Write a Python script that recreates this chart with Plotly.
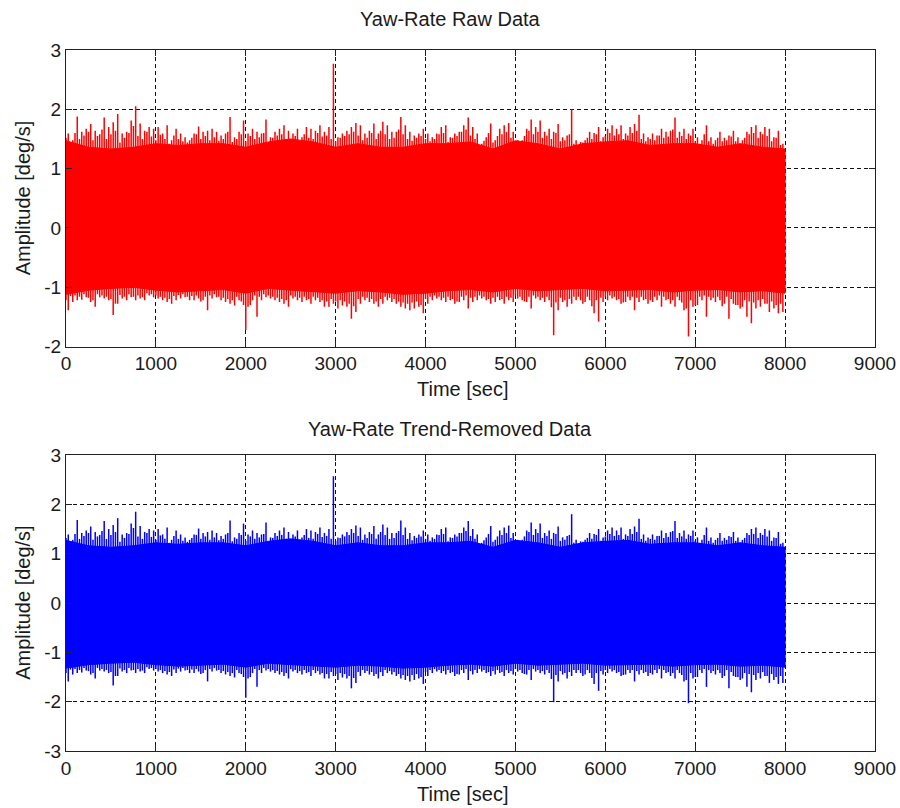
import plotly.graph_objects as go

# ---------------- data ----------------
# Highest / lowest excursion of the raw yaw-rate signal in each 50-s bin (0..8000 s)
raw_upper_peak = [
    1.59, 1.48, 1.88, 1.62, 1.67, 1.75, 1.64, 1.58, 1.86, 1.70,
    1.78, 1.92, 1.59, 1.62, 1.81, 2.05, 1.76, 1.64, 1.70, 1.67,
    1.70, 1.59, 1.73, 1.48, 1.67, 1.59, 1.53, 1.48, 1.59, 1.71,
    1.62, 1.64, 1.67, 1.62, 1.56, 1.59, 1.87, 1.53, 1.62, 1.81,
    1.59, 1.67, 1.62, 1.59, 1.83, 1.53, 1.62, 1.67, 1.73, 1.64,
    1.59, 1.67, 1.53, 1.70, 1.67, 1.64, 1.73, 1.62, 1.70, 2.77,
    1.53, 1.59, 1.64, 1.70, 1.77, 1.73, 1.59, 1.64, 1.76, 1.59,
    1.79, 1.73, 1.62, 1.62, 1.87, 1.73, 1.62, 1.56, 1.59, 1.67,
    1.59, 1.53, 1.59, 1.70, 1.73, 1.53, 1.59, 1.62, 1.73, 1.86,
    1.70, 1.59, 1.42, 1.53, 1.76, 1.48, 1.67, 1.73, 1.77, 1.62,
    1.48, 1.48, 1.67, 1.83, 1.70, 1.81, 1.62, 1.67, 1.62, 1.75,
    1.53, 1.56, 2.00, 1.48, 1.45, 1.48, 1.62, 1.60, 1.70, 1.53,
    1.67, 1.73, 1.67, 1.73, 1.59, 1.70, 1.75, 1.91, 1.59, 1.53,
    1.59, 1.56, 1.67, 1.62, 1.64, 1.86, 1.62, 1.67, 1.59, 1.67,
    1.53, 1.48, 1.73, 1.53, 1.48, 1.62, 1.52, 1.56, 1.64, 1.53,
    1.48, 1.62, 1.70, 1.73, 1.62, 1.70, 1.67, 1.53, 1.64, 1.42,
]
raw_lower_peak = [
    -1.39, -1.25, -1.22, -1.21, -1.17, -1.25, -1.33, -1.17, -1.19, -1.22,
    -1.47, -1.28, -1.19, -1.22, -1.17, -1.22, -1.19, -1.22, -1.14, -1.17,
    -1.19, -1.22, -1.25, -1.28, -1.22, -1.19, -1.17, -1.22, -1.22, -1.19,
    -1.22, -1.39, -1.19, -1.17, -1.22, -1.25, -1.28, -1.31, -1.22, -1.30,
    -1.33, -1.22, -1.50, -1.22, -1.17, -1.19, -1.22, -1.25, -1.28, -1.33,
    -1.19, -1.22, -1.25, -1.22, -1.28, -1.22, -1.25, -1.33, -1.33, -1.28,
    -1.36, -1.31, -1.33, -1.53, -1.42, -1.28, -1.22, -1.25, -1.28, -1.33,
    -1.28, -1.22, -1.25, -1.28, -1.33, -1.36, -1.39, -1.36, -1.33, -1.44,
    -1.28, -1.22, -1.19, -1.22, -1.25, -1.22, -1.28, -1.25, -1.22, -1.36,
    -1.25, -1.22, -1.19, -1.22, -1.28, -1.25, -1.22, -1.28, -1.22, -1.25,
    -1.19, -1.22, -1.25, -1.36, -1.19, -1.22, -1.25, -1.22, -1.81, -1.39,
    -1.25, -1.33, -1.28, -1.22, -1.22, -1.25, -1.22, -1.44, -1.58, -1.25,
    -1.22, -1.19, -1.22, -1.28, -1.25, -1.22, -1.39, -1.25, -1.22, -1.28,
    -1.25, -1.22, -1.33, -1.22, -1.28, -1.33, -1.22, -1.39, -1.83, -1.33,
    -1.30, -1.22, -1.50, -1.22, -1.25, -1.22, -1.28, -1.53, -1.28, -1.30,
    -1.33, -1.50, -1.61, -1.36, -1.33, -1.28, -1.42, -1.36, -1.44, -1.42,
]
# Secondary (smaller) excursions at the start of each 50-s bin
raw_upper_mid = [
    1.52, 1.45, 1.60, 1.50, 1.56, 1.62, 1.48, 1.55, 1.66, 1.50,
    1.58, 1.64, 1.44, 1.52, 1.60, 1.72, 1.55, 1.50, 1.62, 1.54,
    1.48, 1.57, 1.50, 1.42, 1.56, 1.50, 1.46, 1.44, 1.52, 1.58,
    1.50, 1.55, 1.48, 1.53, 1.47, 1.50, 1.62, 1.45, 1.50, 1.58,
    1.46, 1.55, 1.50, 1.53, 1.60, 1.44, 1.52, 1.56, 1.58, 1.50,
    1.48, 1.55, 1.46, 1.58, 1.52, 1.50, 1.60, 1.54, 1.56, 1.50,
    1.46, 1.52, 1.55, 1.58, 1.62, 1.56, 1.48, 1.52, 1.60, 1.50,
    1.64, 1.58, 1.50, 1.52, 1.66, 1.58, 1.50, 1.47, 1.52, 1.55,
    1.50, 1.46, 1.50, 1.58, 1.60, 1.45, 1.52, 1.55, 1.62, 1.66,
    1.56, 1.50, 1.40, 1.47, 1.60, 1.44, 1.55, 1.58, 1.62, 1.52,
    1.42, 1.45, 1.55, 1.64, 1.58, 1.62, 1.52, 1.56, 1.50, 1.60,
    1.46, 1.48, 1.58, 1.42, 1.40, 1.44, 1.52, 1.50, 1.58, 1.46,
    1.55, 1.60, 1.56, 1.58, 1.50, 1.56, 1.60, 1.64, 1.50, 1.46,
    1.50, 1.48, 1.56, 1.52, 1.54, 1.66, 1.52, 1.55, 1.50, 1.56,
    1.46, 1.42, 1.58, 1.46, 1.42, 1.52, 1.46, 1.48, 1.54, 1.46,
    1.42, 1.52, 1.58, 1.60, 1.52, 1.58, 1.55, 1.46, 1.52, 1.40,
]
raw_lower_mid = [
    -1.22, -1.15, -1.14, -1.16, -1.12, -1.18, -1.22, -1.12, -1.14, -1.16,
    -1.20, -1.28, -1.13, -1.16, -1.12, -1.16, -1.14, -1.17, -1.10, -1.12,
    -1.14, -1.16, -1.18, -1.20, -1.15, -1.13, -1.12, -1.16, -1.15, -1.14,
    -1.24, -1.16, -1.14, -1.12, -1.16, -1.18, -1.20, -1.22, -1.16, -1.24,
    -1.72, -1.30, -1.14, -1.16, -1.12, -1.14, -1.16, -1.18, -1.20, -1.22,
    -1.14, -1.16, -1.18, -1.16, -1.20, -1.16, -1.18, -1.22, -1.24, -1.20,
    -1.24, -1.22, -1.24, -1.28, -1.32, -1.20, -1.16, -1.18, -1.20, -1.24,
    -1.20, -1.16, -1.18, -1.20, -1.24, -1.26, -1.28, -1.26, -1.24, -1.30,
    -1.20, -1.16, -1.14, -1.16, -1.18, -1.16, -1.20, -1.24, -1.16, -1.14,
    -1.18, -1.16, -1.14, -1.16, -1.20, -1.18, -1.16, -1.20, -1.16, -1.18,
    -1.14, -1.16, -1.24, -1.16, -1.14, -1.16, -1.18, -1.16, -1.34, -1.26,
    -1.18, -1.22, -1.20, -1.16, -1.16, -1.28, -1.16, -1.32, -1.22, -1.18,
    -1.16, -1.14, -1.16, -1.20, -1.26, -1.16, -1.16, -1.18, -1.16, -1.20,
    -1.22, -1.16, -1.14, -1.16, -1.20, -1.22, -1.16, -1.26, -1.36, -1.22,
    -1.30, -1.16, -1.14, -1.16, -1.18, -1.16, -1.32, -1.16, -1.20, -1.30,
    -1.36, -1.22, -1.24, -1.26, -1.22, -1.20, -1.28, -1.24, -1.30, -1.28,
]
# Solid (dense) band of the raw signal, one value per 250 s (0..8000 s)
raw_upper_band = [
    1.47, 1.36, 1.33, 1.36, 1.42, 1.39, 1.42, 1.42, 1.36, 1.45, 1.50,
    1.45, 1.36, 1.42, 1.36, 1.36, 1.42, 1.42, 1.45, 1.33, 1.47, 1.42,
    1.33, 1.42, 1.45, 1.47, 1.39, 1.42, 1.42, 1.36, 1.42, 1.36, 1.33,
]
raw_lower_band = [
    -1.12, -1.05, -1.02, -1.00, -1.05, -1.08, -1.06, -1.04, -1.10, -1.02, -1.05,
    -1.08, -1.10, -1.06, -1.08, -1.12, -1.10, -1.06, -1.04, -1.08, -1.02, -1.06,
    -1.04, -1.02, -1.06, -1.05, -1.04, -1.08, -1.05, -1.04, -1.08, -1.06, -1.10,
]
# Trend removed between the two panels (mean offset)
trend_offset = 0.20

peak_bin_sec = 50
band_step_sec = 250

x_ticks = [0, 1000, 2000, 3000, 4000, 5000, 6000, 7000, 8000, 9000]
x_tick_text = ["0", "1000", "2000", "3000", "4000", "5000", "6000", "7000",
               "8000", "9000"]
y_ticks_top = [-2, -1, 0, 1, 2, 3]
y_tick_text_top = ["-2", "-1", "0", "1", "2", "3"]
y_ticks_bottom = [-3, -2, -1, 0, 1, 2, 3]
y_tick_text_bottom = ["-3", "-2", "-1", "0", "1", "2", "3"]

titles = ["Yaw-Rate Raw Data", "Yaw-Rate Trend-Removed Data"]
x_label = "Time [sec]"
y_label = "Amplitude [deg/s]"

# ---------------- derived series ----------------
peak_t = [peak_bin_sec * i + peak_bin_sec / 2 for i in range(len(raw_upper_peak))]
mid_t = [peak_bin_sec * i for i in range(len(raw_upper_mid))]
band_t = [band_step_sec * i for i in range(len(raw_upper_band))]


def detrend(vals):
    return [v - trend_offset for v in vals]


# ---------------- layout geometry ----------------
W, H = 900, 808
ML, MR, MT, MB = 66, 25, 50, 57
PW = W - ML - MR
PH = H - MT - MB


def px_x(px):
    return (px - ML) / PW


def px_y(py):
    return 1 - (py - MT) / PH


FONT = "Liberation Sans, Arial, Helvetica, sans-serif"
TXT = "#1a1a1a"

fig = go.Figure()


def add_signal(xa, ya, up_pk, lo_pk, up_mid, lo_mid, up_b, lo_b, color):
    fig.add_trace(go.Scatter(
        x=band_t + band_t[::-1], y=up_b + lo_b[::-1],
        fill="toself", fillcolor=color, mode="lines",
        line=dict(color=color, width=1),
        xaxis=xa, yaxis=ya, hoverinfo="skip", showlegend=False))
    xs, ys = [], []
    for t, u, l in zip(peak_t, up_pk, lo_pk):
        xs += [t, t, None]
        ys += [l, u, None]
    for t, u, l in zip(mid_t, up_mid, lo_mid):
        xs += [t, t, None]
        ys += [l, u, None]
    fig.add_trace(go.Scatter(
        x=xs, y=ys, mode="lines", line=dict(color=color, width=1.5),
        xaxis=xa, yaxis=ya, hoverinfo="skip", showlegend=False,
        connectgaps=False))


add_signal("x", "y", raw_upper_peak, raw_lower_peak, raw_upper_mid,
           raw_lower_mid, raw_upper_band, raw_lower_band, "#ff0000")
add_signal("x2", "y2", detrend(raw_upper_peak), detrend(raw_lower_peak),
           detrend(raw_upper_mid), detrend(raw_lower_mid),
           detrend(raw_upper_band), detrend(raw_lower_band), "#0000ff")

axis_common = dict(
    showline=True, linecolor="#222", linewidth=1, mirror="ticks",
    ticks="inside", ticklen=6, tickcolor="#222",
    showgrid=True, gridcolor="#111", gridwidth=1, griddash="4px,3px",
    zeroline=False, automargin=False,
    tickfont=dict(family=FONT, size=19, color=TXT),
)

top_dom = [px_y(346.5), 1.0]
bot_dom = [0.0, px_y(455)]

fig.update_layout(
    width=W, height=H,
    margin=dict(l=ML, r=MR, t=MT, b=MB, autoexpand=False),
    paper_bgcolor="white", plot_bgcolor="white",
    showlegend=False,
    xaxis=dict(range=[0, 9000], tickvals=x_ticks, ticktext=x_tick_text,
               anchor="y", **axis_common),
    yaxis=dict(range=[-2, 3], tickvals=y_ticks_top, ticktext=y_tick_text_top,
               domain=top_dom, anchor="x", **axis_common),
    xaxis2=dict(range=[0, 9000], tickvals=x_ticks, ticktext=x_tick_text,
                anchor="y2", **axis_common),
    yaxis2=dict(range=[-3, 3], tickvals=y_ticks_bottom,
                ticktext=y_tick_text_bottom, domain=bot_dom, anchor="x2",
                **axis_common),
)

ann = []
for title, ty in zip(titles, [19, 429]):
    ann.append(dict(text=title, x=px_x(450), y=px_y(ty), xref="paper",
                    yref="paper", showarrow=False, xanchor="center",
                    yanchor="middle",
                    font=dict(family=FONT, size=20, color=TXT)))
for ly in [389, 794]:
    ann.append(dict(text=x_label, x=px_x(463), y=px_y(ly), xref="paper",
                    yref="paper", showarrow=False, xanchor="center",
                    yanchor="middle",
                    font=dict(family=FONT, size=20, color=TXT)))
for cy in [(50 + 346.5) / 2, (455 + 750.7) / 2]:
    ann.append(dict(text=y_label, x=px_x(23), y=px_y(cy), xref="paper",
                    yref="paper", showarrow=False, xanchor="center",
                    yanchor="middle", textangle=-90,
                    font=dict(family=FONT, size=20, color=TXT)))
fig.update_layout(annotations=ann)

fig.write_html("out.html", config={"displayModeBar": False})
